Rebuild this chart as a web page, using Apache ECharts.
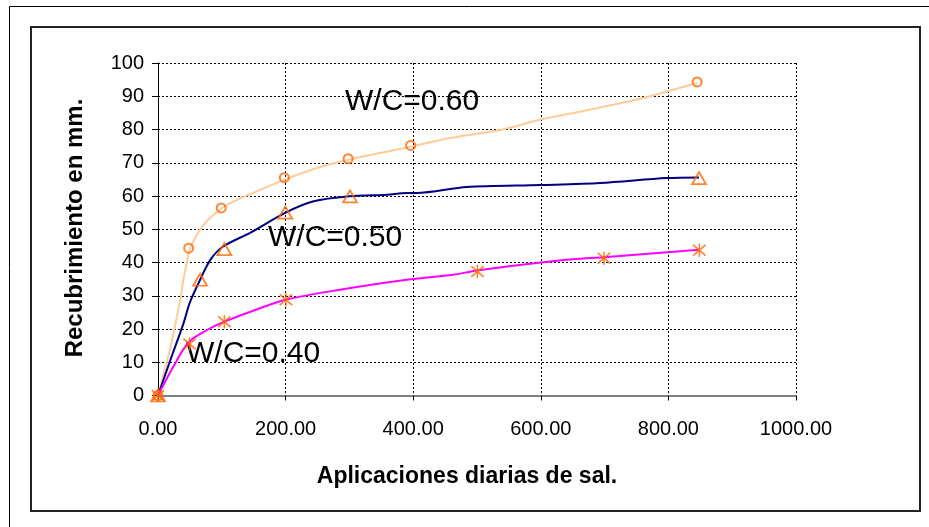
<!DOCTYPE html>
<html>
<head>
<meta charset="utf-8">
<script src="https://cdn.jsdelivr.net/npm/echarts@6/dist/echarts.min.js"></script>
<style>
  html, body { margin: 0; padding: 0; background: #fff; }
  #chart { width: 929px; height: 527px; }
</style>
</head>
<body>
<div id="chart"></div>
<script>
// Tick labels
const xTickLabels = ['0.00', '200.00', '400.00', '600.00', '800.00', '1000.00'];
const yTickLabels = ['0', '10', '20', '30', '40', '50', '60', '70', '80', '90', '100'];

// Measured points (orange markers)
const wc60Points = [[0, 0], [48, 44.3], [99, 56.4], [198, 65.5], [298, 71.2], [396, 75.2], [845, 94.3]];
const wc50Points = [[0, 0], [66, 34.8], [104, 44], [199.5, 55], [301, 59.9], [848, 65.4]];
const wc40Points = [[0, 0], [49.5, 15.5], [104, 22.2], [200.5, 28.8], [500.7, 37.3], [699, 41.3], [848.5, 43.7]];

// Fitted curves
const wc60Curve = [[0, 0], [20, 15], [35, 29], [40, 35], [50, 44], [60, 48], [70, 51], [85, 54], [110, 57.5],
  [150, 61], [200, 65], [250, 68.5], [300, 71], [350, 73], [400, 75], [460, 77.5], [540, 80], [600, 83],
  [670, 85.7], [750, 89], [845, 94]];
const wc50Curve = [[0, 0], [20, 11], [40, 21.7], [50, 28], [66, 34.8], [82, 40.8], [102, 44.8], [145, 49],
  [200, 55], [244, 58.4], [300, 59.9], [359, 60.4], [390, 60.9], [405, 60.9], [484, 62.7], [600, 63.3],
  [693, 63.9], [797, 65.4], [848, 65.6]];
const wc40Curve = [[0, 0], [25, 9], [48, 16], [77, 19.7], [104, 22.2], [145, 25.2], [200, 28.8], [285, 31.8],
  [390, 34.8], [463, 36.3], [500, 37.6], [640, 40.8], [699, 41.6], [848, 43.8]];

// Curve annotations
const curveLabels = ['W/C=0.60', 'W/C=0.50', 'W/C=0.40'];
const xAxisTitle = 'Aplicaciones diarias de sal.';
const yAxisTitle = 'Recubrimiento en mm.';

const FONT = '"Liberation Sans", Arial, sans-serif';
const MARK = '#FF6600';

// Six-armed asterisk drawn as three thin bars
const asterisk = 'path://M9.2 0L10.8 0L10.8 20L9.2 20Z' +
  'M1.6 1.2L19.6 17.2L18.4 18.8L0.4 2.8Z' +
  'M19.6 2.8L1.6 18.8L0.4 17.2L18.4 1.2Z';

const chart = echarts.init(document.getElementById('chart'), null, { renderer: 'canvas' });

const gridLine = { show: true, lineStyle: { color: '#000', width: 1, type: [2, 2] } };

chart.setOption({
  animation: false,
  backgroundColor: '#fff',
  grid: { left: 158, right: 133, top: 63, bottom: 131.5, containLabel: false },
  xAxis: {
    type: 'value', min: 0, max: 1000, interval: 200,
    axisLine: { show: true, onZero: false, lineStyle: { color: '#808080', width: 2 } },
    axisTick: { show: true, length: 5, lineStyle: { color: '#000' } },
    axisLabel: {
      margin: 24, color: '#000', fontFamily: FONT, fontSize: 20,
      formatter: v => xTickLabels[Math.round(v / 200)]
    },
    splitLine: gridLine
  },
  yAxis: {
    type: 'value', min: 0, max: 100, interval: 10,
    axisLine: { show: true, onZero: false, lineStyle: { color: '#000', width: 1 } },
    axisTick: { show: true, length: 6, lineStyle: { color: '#000' } },
    axisLabel: {
      margin: 14, color: '#000', fontFamily: FONT, fontSize: 20,
      formatter: v => yTickLabels[Math.round(v / 10)]
    },
    splitLine: gridLine
  },
  series: [
    { type: 'line', data: wc60Curve, showSymbol: false, smooth: 0.3, z: 2,
      lineStyle: { color: '#FFCC99', width: 2 } },
    { type: 'line', data: wc50Curve, showSymbol: false, smooth: 0.3, z: 2,
      lineStyle: { color: '#000080', width: 2 } },
    { type: 'line', data: wc40Curve, showSymbol: false, smooth: 0.3, z: 2,
      lineStyle: { color: '#FF00FF', width: 2 } },
    { type: 'scatter', data: wc60Points, symbol: 'circle', symbolSize: 9, z: 3,
      itemStyle: { color: 'rgba(255,255,255,0)', borderColor: MARK, borderWidth: 2 } },
    { type: 'scatter', data: wc50Points, symbol: 'triangle', symbolSize: [14, 12], z: 3,
      itemStyle: { color: 'rgba(255,255,255,0)', borderColor: MARK, borderWidth: 1.8 } },
    { type: 'scatter', data: wc40Points, symbol: asterisk, symbolSize: 13, z: 3,
      itemStyle: { color: MARK, borderColor: MARK, borderWidth: 0.4 } }
  ],
  graphic: [
    // outer frame
    { type: 'rect', shape: { x: 9.5, y: 6.5, width: 940, height: 540 }, silent: true,
      style: { fill: null, stroke: '#000', lineWidth: 1 } },
    // chart area frame
    { type: 'rect', shape: { x: 31, y: 27, width: 889, height: 484 }, silent: true,
      style: { fill: null, stroke: '#222', lineWidth: 2 } },
    { type: 'text', left: 345, top: 87, silent: true,
      style: { text: curveLabels[0], font: '30px ' + FONT, fill: '#000' } },
    { type: 'text', left: 268, top: 223, silent: true,
      style: { text: curveLabels[1], font: '30px ' + FONT, fill: '#000' } },
    { type: 'text', left: 186, top: 339, silent: true,
      style: { text: curveLabels[2], font: '30px ' + FONT, fill: '#000' } },
    { type: 'text', x: 467, y: 477, silent: true,
      style: { text: xAxisTitle, font: 'bold 23px ' + FONT, fill: '#000', align: 'center', verticalAlign: 'middle' } },
    { type: 'text', x: 75, y: 228, rotation: Math.PI / 2, silent: true,
      style: { text: yAxisTitle, font: 'bold 24px ' + FONT, fill: '#000', align: 'center', verticalAlign: 'middle' } }
  ]
});
</script>
</body>
</html>
